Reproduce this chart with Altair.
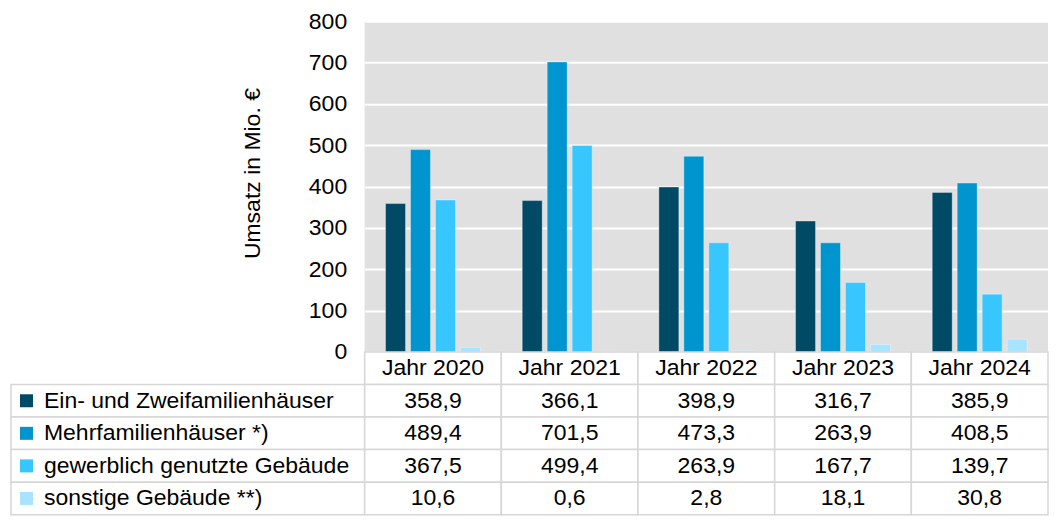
import altair as alt
import pandas as pd

# ---- data ----
years = ["Jahr 2020", "Jahr 2021", "Jahr 2022", "Jahr 2023", "Jahr 2024"]
series = [
    "Ein- und Zweifamilienhäuser",
    "Mehrfamilienhäuser *)",
    "gewerblich genutzte Gebäude",
    "sonstige Gebäude **)",
]
ein_zwei = [358.9, 366.1, 398.9, 316.7, 385.9]
mehr = [489.4, 701.5, 473.3, 263.9, 408.5]
gewerblich = [367.5, 499.4, 263.9, 167.7, 139.7]
sonstige = [10.6, 0.6, 2.8, 18.1, 30.8]
colors = ["#004a66", "#0095cf", "#38c6ff", "#a8e4ff"]
y_ticks = [0, 100, 200, 300, 400, 500, 600, 700, 800]

FONT = "Liberation Sans"
FS = 23
GRID = "#d6d6d6"
HEADER = "header"
LEFT_W = 354
RIGHT_W = 684
PLOT_H = 331
TABLE_H = 163

rows = []
for s, vals in zip(series, [ein_zwei, mehr, gewerblich, sonstige]):
    for yr, v in zip(years, vals):
        rows.append({"series": s, "year": yr, "value": v,
                     "row": s, "label": f"{v:.1f}".replace(".", ",")})
df = pd.DataFrame(rows)
hdr = pd.DataFrame({"row": [HEADER] * len(years), "year": years, "label": years})
table_df = pd.concat([hdr, df[["row", "year", "label"]]], ignore_index=True)
lab_df = pd.DataFrame({"series": series})

row_domain = [HEADER] + series
color_scale = alt.Scale(domain=series, range=colors)

# ---- bar chart ----
bars = alt.Chart(df).mark_bar(stroke="white", strokeOpacity=0.35, strokeWidth=1).encode(
    x=alt.X("year:N", sort=years,
            scale=alt.Scale(domain=years, paddingInner=0, paddingOuter=0), axis=None),
    xOffset=alt.XOffset("series:N", sort=series,
                        scale=alt.Scale(domain=series, paddingInner=0.2, paddingOuter=0.836)),
    y=alt.Y("value:Q", scale=alt.Scale(domain=[0, 800], nice=False),
            axis=alt.Axis(values=y_ticks, grid=True, gridColor="white", gridWidth=2,
                          domain=False, ticks=False, labelFont=FONT, labelFontSize=FS,
                          labelColor="black", labelPadding=18,
                          title="Umsatz in Mio. €", titleFont=FONT, titleFontSize=FS,
                          titleFontWeight="normal", titleColor="black", titlePadding=44,
                          titleY=152)),
    color=alt.Color("series:N", scale=color_scale, legend=None),
).properties(width=RIGHT_W, height=PLOT_H, view=alt.ViewBackground(fill="#e0e0e0"))

spacer = alt.Chart(pd.DataFrame({"k": [0]})).mark_text(text="").properties(width=LEFT_W, height=PLOT_H)

# ---- table: label column ----
ylab = alt.Y("series:N", sort=row_domain,
             scale=alt.Scale(domain=row_domain, paddingInner=0, paddingOuter=0), axis=None)
lab_cells = alt.Chart(lab_df).mark_rect(fill="white", stroke=GRID, strokeWidth=1.5).encode(y=ylab)
lab_sq = alt.Chart(lab_df).mark_square(size=169, opacity=1).encode(
    y=ylab, x=alt.value(15.5),
    color=alt.Color("series:N", scale=color_scale, legend=None))
lab_txt = alt.Chart(lab_df).mark_text(align="left", baseline="middle", font=FONT,
                                      fontSize=FS, color="black").encode(
    y=ylab, x=alt.value(33), text="series:N")
labels = alt.layer(lab_cells, lab_sq, lab_txt).properties(width=LEFT_W, height=TABLE_H)

# ---- table: values ----
xt = alt.X("year:N", sort=years, scale=alt.Scale(domain=years, paddingInner=0, paddingOuter=0), axis=None)
yt = alt.Y("row:N", sort=row_domain,
           scale=alt.Scale(domain=row_domain, paddingInner=0, paddingOuter=0), axis=None)
cells = alt.Chart(table_df).mark_rect(fill="white", stroke=GRID, strokeWidth=1.5).encode(x=xt, y=yt)
cell_txt = alt.Chart(table_df).mark_text(baseline="middle", font=FONT, fontSize=FS,
                                         color="black").encode(x=xt, y=yt, text="label:N")
values = alt.layer(cells, cell_txt).properties(width=RIGHT_W, height=TABLE_H)

chart = alt.concat(spacer, bars, labels, values, columns=2, spacing=0, bounds="flush").properties(
    padding={"left": 2, "top": 2, "right": 0, "bottom": 0}
).configure_view(strokeWidth=0)

chart.save("out.html", embed_options={"renderer": "svg", "actions": False})
